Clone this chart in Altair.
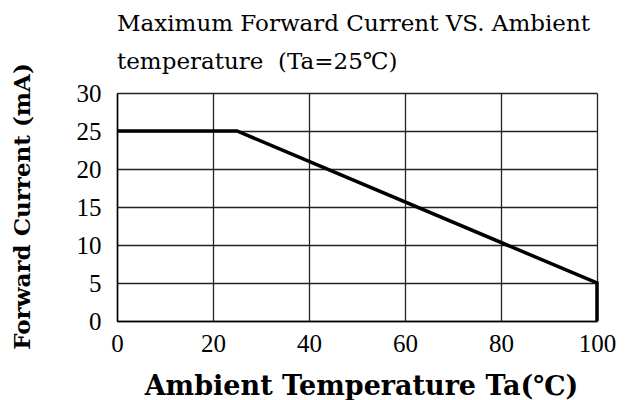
import altair as alt
import pandas as pd

temps = [0, 25, 100, 100]
currents = [25, 25, 5, 0]
order = [0, 1, 2, 3]
x_ticks = [0, 20, 40, 60, 80, 100]
y_ticks = [0, 5, 10, 15, 20, 25, 30]
title_lines = ["Maximum Forward Current VS. Ambient", "temperature\u00a0 (Ta=25\u2103)"]

df = pd.DataFrame({"Ta": temps, "IF": currents, "o": order})

chart = alt.Chart(df).mark_line(color="black", strokeWidth=3.5).encode(
    x=alt.X("Ta:Q",
            scale=alt.Scale(domain=[0, 100], nice=False, zero=False),
            axis=alt.Axis(values=x_ticks, title="Ambient Temperature Ta(\u2103)",
                          ticks=False, labelFlush=False, labelOverlap=False,
                          labelPadding=10, labelFont="Liberation Serif", labelFontSize=25,
                          labelColor="black", domainColor="black", domainWidth=1.5,
                          gridColor="#222", gridWidth=1.3, gridOpacity=1,
                          titleFont="DejaVu Serif", titleFontSize=27, titleFontWeight="bold",
                          titleColor="black", titleX=244, titleY=73, titleBaseline="alphabetic",
                          titleAlign="center")),
    y=alt.Y("IF:Q",
            scale=alt.Scale(domain=[0, 30], nice=False),
            axis=alt.Axis(values=y_ticks, title="Forward Current (mA)",
                          ticks=False, labelFlush=False, labelOverlap=False,
                          labelPadding=16, labelFont="Liberation Serif", labelFontSize=25,
                          labelColor="black", domainColor="black", domainWidth=1.5,
                          gridColor="#222", gridWidth=1.3, gridOpacity=1,
                          titleFont="DejaVu Serif", titleFontSize=23, titleFontWeight="bold",
                          titleColor="black", titleX=-95, titleY=113, titleAngle=270,
                          titleBaseline="middle", titleAlign="center")),
    order="o:O",
).properties(
    width=480,
    height=228,
    title=alt.TitleParams(title_lines, anchor="start", frame="group", font="DejaVu Serif",
                          fontSize=23, fontWeight="normal", color="black", lineHeight=38,
                          offset=16, dy=27),
    padding={"left": 109, "top": 85, "right": 20, "bottom": 79},
    autosize="none",
).configure_view(stroke="black", strokeWidth=1.5).configure(background="white")

chart.save("out.html", embed_options={"renderer": "svg", "actions": False})
